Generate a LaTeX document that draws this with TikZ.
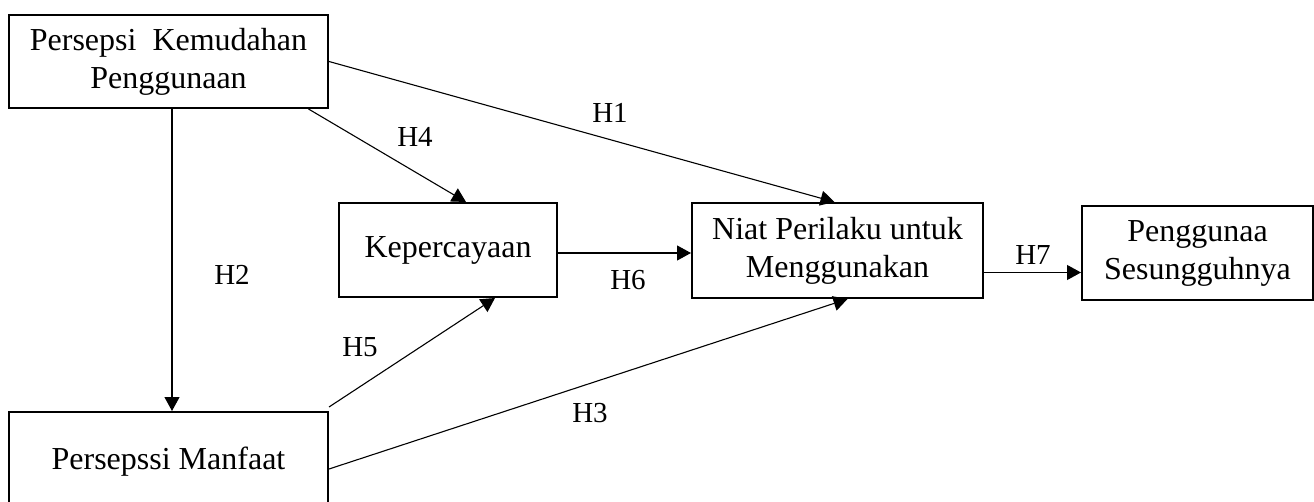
\documentclass[tikz,border=0pt]{standalone}
\usepackage{fontspec}
\setmainfont{Liberation Serif}
\usetikzlibrary{arrows.meta}
\begin{document}
\begin{tikzpicture}[x = 1pt, y = -1pt]
\tikzstyle{BoxStyle}=[shape = rectangle,
                      draw,
                      line width = 2pt,
                      align = center,
                      inner sep = 0pt,
                      font = \fontsize{32}{38}\selectfont]
\tikzstyle{EdgeStyle}=[line width = 1.1pt,
                       -{Triangle[length = 14pt, width = 15pt]}]
\tikzstyle{LabelStyle}=[font = \fontsize{29}{34}\selectfont]
\useasboundingbox (0, 0) rectangle (1314, 502);

\node[BoxStyle, minimum width = 319pt, minimum height = 93pt] (pkp) at (168.5, 61.5) {Persepsi~ Kemudahan\\Penggunaan};
\node[BoxStyle, minimum width = 319pt, minimum height = 100pt] (pm) at (168.5, 462) {Persepssi Manfaat};
\node[BoxStyle, minimum width = 218pt, minimum height = 94pt] (kep) at (448, 250) {Kepercayaan};
\node[BoxStyle, minimum width = 291pt, minimum height = 95pt] (niat) at (837.5, 250.5) {Niat Perilaku untuk\\Menggunakan};
\node[BoxStyle, minimum width = 231pt, minimum height = 94pt] (pg) at (1197.5, 253) {Penggunaa\\Sesungguhnya};

\draw[EdgeStyle] ([xshift = 3.5pt]pkp.south) -- ([xshift = 3.5pt]pm.north);
\draw[EdgeStyle] (pkp.east) -- ([xshift = -3pt]niat.north);
\draw[EdgeStyle] ([xshift = 140pt]pkp.south) -- ([xshift = 18pt]kep.north);
\draw[EdgeStyle] ([yshift = -3pt]kep.east) -- ([yshift = -3pt]kep.east -| niat.west);
\draw[EdgeStyle] ([yshift = 4pt]pm.north east) -- ([xshift = 47pt]kep.south);
\draw[EdgeStyle] ([yshift = -7pt]pm.east) -- ([xshift = 10pt]niat.south);
\draw[EdgeStyle] ([yshift = -22pt]niat.east) -- ([yshift = -22pt]niat.east -| pg.west);

\node[LabelStyle] (h1) at (610, 113) {H1};
\node[LabelStyle] (h2) at (232, 275) {H2};
\node[LabelStyle] (h3) at (590, 413) {H3};
\node[LabelStyle] (h4) at (415, 137) {H4};
\node[LabelStyle] (h5) at (360, 347) {H5};
\node[LabelStyle] (h6) at (628, 280) {H6};
\node[LabelStyle] (h7) at (1033, 255) {H7};
\end{tikzpicture}
\end{document}
